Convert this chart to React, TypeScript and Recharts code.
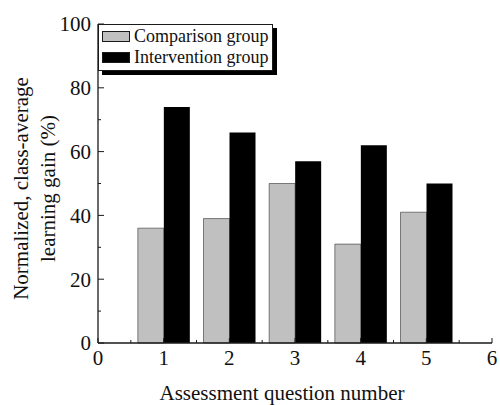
import { BarChart, Bar, XAxis, YAxis, Legend } from 'recharts';

// values
const questions = [1, 2, 3, 4, 5];
const comparisonGain = [36, 39, 50, 31, 41];
const interventionGain = [74, 66, 57, 62, 50];
const xTicks = [0, 0.5, 1, 1.5, 2, 2.5, 3, 3.5, 4, 4.5, 5, 5.5, 6];
const yTicks = [0, 10, 20, 30, 40, 50, 60, 70, 80, 90, 100];
const seriesNames = ['Comparison group', 'Intervention group'];
const seriesColors = ['#c0c0c0', '#000000'];

const data = questions.map((q, i) => ({
  q,
  comparison: comparisonGain[i],
  intervention: interventionGain[i],
}));

const FONT = '"Liberation Serif", "Times New Roman", serif';
const INK = '#1a1a1a';

const onStep = (v: number, step: number) => Math.abs(v / step - Math.round(v / step)) < 1e-6;

function LeftTick({ x, y, payload }: any) {
  const major = onStep(payload.value, 20);
  return (
    <g>
      <line x1={x} x2={x + (major ? 6 : 3)} y1={y} y2={y} stroke={INK} strokeWidth={1} />
      {major && (
        <text x={x - 7} y={y} dy="0.35em" textAnchor="end" fontSize={21} fontFamily={FONT} fill="#111">
          {payload.value}
        </text>
      )}
    </g>
  );
}

function RightTick({ x, y, payload }: any) {
  const major = onStep(payload.value, 20);
  return <line x1={x} x2={x - (major ? 6 : 3)} y1={y} y2={y} stroke={INK} strokeWidth={1} />;
}

function BottomTick({ x, y, payload }: any) {
  const major = onStep(payload.value, 1);
  return (
    <g>
      <line x1={x} x2={x} y1={y} y2={y - (major ? 5 : 3)} stroke={INK} strokeWidth={1} />
      {major && (
        <text x={x} y={y + 22} textAnchor="middle" fontSize={21} fontFamily={FONT} fill="#111">
          {payload.value}
        </text>
      )}
    </g>
  );
}

function TopTick({ x, y, payload }: any) {
  const major = onStep(payload.value, 1);
  return <line x1={x} x2={x} y1={y} y2={y + (major ? 5 : 3)} stroke={INK} strokeWidth={1} />;
}

function YTitle({ viewBox }: any) {
  const cx = 28;
  const cy = viewBox.y + viewBox.height / 2 + 5;
  return (
    <text transform={`rotate(-90, ${cx}, ${cy})`} x={cx} y={cy} textAnchor="middle" fontSize={21} fontFamily={FONT} fill="#111">
      <tspan x={cx} dy={0}>Normalized, class-average</tspan>
      <tspan x={cx} dy={26.5}>learning gain (%)</tspan>
    </text>
  );
}

function XTitle({ viewBox }: any) {
  return (
    <text x={viewBox.x + viewBox.width / 2 - 13} y={399.5} textAnchor="middle" fontSize={21} fontFamily={FONT} fill="#111">
      Assessment question number
    </text>
  );
}

function LegendBox() {
  return (
    <div
      style={{
        background: '#fff',
        border: `1.3px solid ${INK}`,
        boxShadow: '4px 4px 0 #000',
        padding: '1px 3px 2px 3px',
        fontFamily: FONT,
        fontSize: 18,
        color: '#111',
        lineHeight: '21px',
      }}
    >
      {seriesNames.map((name, i) => (
        <div key={name} style={{ display: 'flex', alignItems: 'center', height: 21 }}>
          <span
            style={{
              display: 'inline-block',
              width: 26,
              height: 9,
              background: seriesColors[i],
              border: `1px solid ${INK}`,
              marginRight: 4,
            }}
          />
          <span>{name}</span>
        </div>
      ))}
    </div>
  );
}

export default function App() {
  return (
    <div style={{ position: 'absolute', left: 0, top: 0, background: '#fff' }}>
      <BarChart
        width={500}
        height={405}
        data={data}
        barGap={0}
        margin={{ top: 24, right: 8, left: 0, bottom: 0 }}
      >
        <XAxis
          xAxisId="bottom"
          dataKey="q"
          type="number"
          domain={[0, 6]}
          ticks={xTicks}
          interval={0}
          height={62}
          tickSize={0}
          tickMargin={0}
          tickLine={false}
          axisLine={{ stroke: INK, strokeWidth: 1.3 }}
          tick={<BottomTick />}
          label={<XTitle />}
        />
        <XAxis
          xAxisId="top"
          orientation="top"
          dataKey="q"
          type="number"
          domain={[0, 6]}
          ticks={xTicks}
          interval={0}
          height={0}
          tickSize={0}
          tickMargin={0}
          tickLine={false}
          axisLine={{ stroke: INK, strokeWidth: 1.3 }}
          tick={<TopTick />}
        />
        <YAxis
          yAxisId="left"
          type="number"
          domain={[0, 100]}
          ticks={yTicks}
          interval={0}
          width={98}
          tickSize={0}
          tickMargin={0}
          tickLine={false}
          axisLine={{ stroke: INK, strokeWidth: 1.3 }}
          tick={<LeftTick />}
          label={<YTitle />}
        />
        <YAxis
          yAxisId="right"
          orientation="right"
          type="number"
          domain={[0, 100]}
          ticks={yTicks}
          interval={0}
          width={0}
          tickSize={0}
          tickMargin={0}
          tickLine={false}
          axisLine={{ stroke: INK, strokeWidth: 1.3 }}
          tick={<RightTick />}
        />
        <Legend
          layout="horizontal"
          verticalAlign="middle"
          align="center"
          wrapperStyle={{ left: 98, top: 24, width: 'auto' }}
          content={<LegendBox />}
        />
        <Bar
          xAxisId="bottom"
          yAxisId="left"
          dataKey="comparison"
          name={seriesNames[0]}
          fill={seriesColors[0]}
          stroke="#333"
          strokeWidth={0.6}
          barSize={26}
          isAnimationActive={false}
        />
        <Bar
          xAxisId="bottom"
          yAxisId="left"
          dataKey="intervention"
          name={seriesNames[1]}
          fill={seriesColors[1]}
          barSize={26}
          isAnimationActive={false}
        />
      </BarChart>
    </div>
  );
}
